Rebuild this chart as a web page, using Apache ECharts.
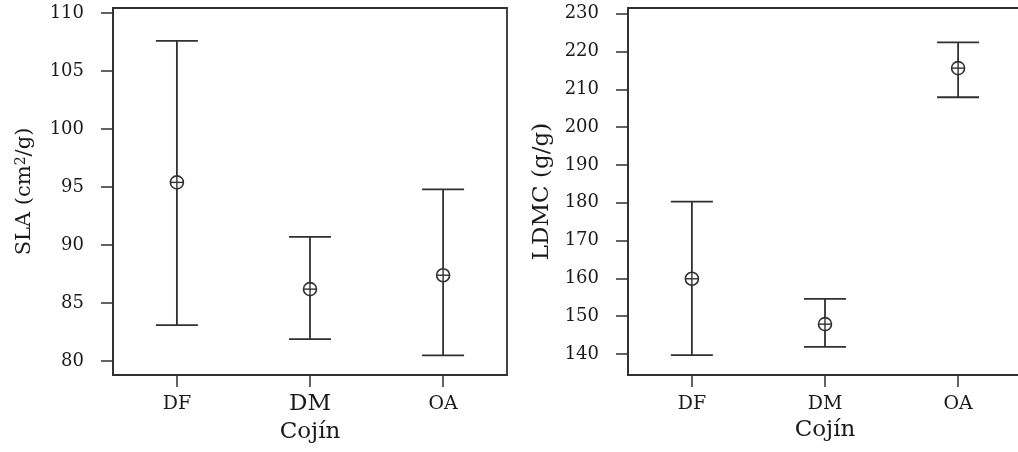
<!DOCTYPE html>
<html>
<head>
<meta charset="utf-8">
<script src="https://cdn.jsdelivr.net/npm/echarts@6/dist/echarts.min.js"></script>
<style>
html,body{margin:0;padding:0;background:#fff;}
#c{width:1018px;height:452px;}
</style>
</head>
<body>
<div id="c"></div>
<script>
// ---- data ----
const categories = ['DF', 'DM', 'OA'];
const categoryPos = [1, 2, 3];
const slaMean = [95.4, 86.2, 87.4];
const slaLow  = [83.1, 81.9, 80.5];
const slaHigh = [107.6, 90.7, 94.8];
const ldmcMean = [159.9, 147.9, 215.6];
const ldmcLow  = [139.7, 141.9, 207.9];
const ldmcHigh = [180.3, 154.6, 222.4];
const slaTicks = [80, 85, 90, 95, 100, 105, 110];
const ldmcTicks = [140, 150, 160, 170, 180, 190, 200, 210, 220, 230];
const xTitle = 'Cojín';

// ---- styling ----
const FONT = 'DejaVu Serif';
const INK = '#1a1a1a';
const LINE = '#303030';

function rows(mean, lo, hi) {
  return categoryPos.map((x, i) => [x, mean[i], lo[i], hi[i]]);
}

function renderErr(params, api) {
  const x = api.value(0), m = api.value(1), lo = api.value(2), hi = api.value(3);
  const pm = api.coord([x, m]);
  const plo = api.coord([x, lo]);
  const phi = api.coord([x, hi]);
  const cap = 21, r = 6.5;
  const st = { stroke: LINE, lineWidth: 1.8, fill: null };
  return {
    type: 'group',
    children: [
      { type: 'line', shape: { x1: phi[0], y1: phi[1], x2: plo[0], y2: plo[1] }, style: st },
      { type: 'line', shape: { x1: phi[0] - cap, y1: phi[1], x2: phi[0] + cap, y2: phi[1] }, style: st },
      { type: 'line', shape: { x1: plo[0] - cap, y1: plo[1], x2: plo[0] + cap, y2: plo[1] }, style: st },
      { type: 'circle', shape: { cx: pm[0], cy: pm[1], r: r }, style: { stroke: LINE, lineWidth: 1.6, fill: '#fff' } },
      { type: 'line', shape: { x1: pm[0] - r, y1: pm[1], x2: pm[0] + r, y2: pm[1] }, style: { stroke: LINE, lineWidth: 1.4 } },
      { type: 'line', shape: { x1: pm[0], y1: pm[1] - r, x2: pm[0], y2: pm[1] + r }, style: { stroke: LINE, lineWidth: 1.4 } }
    ]
  };
}

function xAxisDef(gridIndex, bigDM) {
  return {
    type: 'value', gridIndex: gridIndex, min: 0.52, max: 3.48,
    name: xTitle, nameLocation: 'middle', nameGap: 43,
    nameTextStyle: { fontFamily: FONT, fontSize: 23, color: INK },
    axisLine: { show: true, onZero: false, lineStyle: { color: LINE, width: 1.8 } },
    axisTick: { show: true, length: 12, customValues: categoryPos, lineStyle: { color: LINE, width: 1.5 } },
    axisLabel: {
      customValues: categoryPos, margin: 20, color: INK, fontFamily: FONT, fontSize: 19,
      formatter: function (v) {
        const name = categories[Math.round(v) - 1];
        return (bigDM && name === 'DM') ? '{big|' + name + '}' : name;
      },
      rich: { big: { fontFamily: FONT, fontSize: 23, color: INK, lineHeight: 19 } }
    },
    splitLine: { show: false }
  };
}

function yAxisDef(gridIndex, min, max, ticks, name, nameSize, nameGap) {
  return {
    type: 'value', gridIndex: gridIndex, min: min, max: max,
    name: name, nameLocation: 'middle', nameGap: nameGap, nameRotate: 90,
    nameTextStyle: {
      fontFamily: FONT, fontSize: nameSize, color: INK,
      rich: { sup: { fontFamily: FONT, fontSize: 14, color: INK, verticalAlign: 'top', padding: [0, 0, 8, 0] } }
    },
    axisLine: { show: true, onZero: false, lineStyle: { color: LINE, width: 1.8 } },
    axisTick: { show: true, length: 12, customValues: ticks, lineStyle: { color: LINE, width: 1.5 } },
    axisLabel: { customValues: ticks, margin: 29, color: INK, fontFamily: FONT, fontSize: 18 },
    splitLine: { show: false }
  };
}

const chart = echarts.init(document.getElementById('c'), null, { renderer: 'canvas' });
chart.setOption({
  backgroundColor: '#fff',
  animation: false,
  grid: [
    { left: 113, top: 8, width: 394, height: 367, show: true, borderColor: LINE, borderWidth: 1.8, backgroundColor: 'transparent', outerBoundsMode: 'none', containLabel: false },
    { left: 628, top: 8, width: 394, height: 367, show: true, borderColor: LINE, borderWidth: 1.8, backgroundColor: 'transparent', outerBoundsMode: 'none', containLabel: false }
  ],
  xAxis: [xAxisDef(0, true), xAxisDef(1, false)],
  yAxis: [
    yAxisDef(0, 78.8, 110.43, slaTicks, 'SLA (cm{sup|2}/g)', 21, 77),
    yAxisDef(1, 134.45, 231.5, ldmcTicks, 'LDMC (g/g)', 23, 74)
  ],
  series: [
    { type: 'custom', xAxisIndex: 0, yAxisIndex: 0, data: rows(slaMean, slaLow, slaHigh), encode: { x: 0, y: [1, 2, 3] }, renderItem: renderErr, clip: false },
    { type: 'custom', xAxisIndex: 1, yAxisIndex: 1, data: rows(ldmcMean, ldmcLow, ldmcHigh), encode: { x: 0, y: [1, 2, 3] }, renderItem: renderErr, clip: false }
  ]
});
</script>
</body>
</html>
